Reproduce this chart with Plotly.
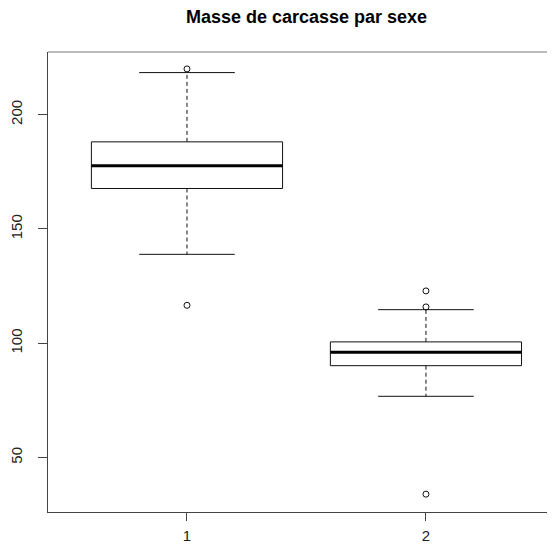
import plotly.graph_objects as go

# ---- data ----
groups = ["1", "2"]
group_pos = [1, 2]
q1 = [167.7, 90.2]
median = [177.7, 96.1]
q3 = [188.1, 100.6]
whisker_low = [138.9, 76.8]
whisker_high = [218.4, 114.7]
outliers_1 = [220.0, 116.6]
outliers_2 = [122.9, 115.9, 34.0]
y_ticks = [50, 100, 150, 200]

BOX_HALF = 0.4
CAP_HALF = 0.2
INK = "#111111"

box_x, box_y = [], []
med_x, med_y = [], []
wh_x, wh_y = [], []
cap_x, cap_y = [], []
for i, p in enumerate(group_pos):
    box_x += [p - BOX_HALF, p + BOX_HALF, p + BOX_HALF, p - BOX_HALF, p - BOX_HALF, None]
    box_y += [q1[i], q1[i], q3[i], q3[i], q1[i], None]
    med_x += [p - BOX_HALF, p + BOX_HALF, None]
    med_y += [median[i], median[i], None]
    wh_x += [p, p, None, p, p, None]
    wh_y += [q3[i], whisker_high[i], None, q1[i], whisker_low[i], None]
    cap_x += [p - CAP_HALF, p + CAP_HALF, None, p - CAP_HALF, p + CAP_HALF, None]
    cap_y += [whisker_high[i], whisker_high[i], None, whisker_low[i], whisker_low[i], None]

out_x = [group_pos[0]] * len(outliers_1) + [group_pos[1]] * len(outliers_2)
out_y = outliers_1 + outliers_2

fig = go.Figure()
fig.add_trace(go.Scatter(x=wh_x, y=wh_y, mode="lines",
                         line=dict(color=INK, width=1, dash="4px,3px"), hoverinfo="skip"))
fig.add_trace(go.Scatter(x=cap_x, y=cap_y, mode="lines",
                         line=dict(color=INK, width=1), hoverinfo="skip"))
fig.add_trace(go.Scatter(x=box_x, y=box_y, mode="lines",
                         line=dict(color=INK, width=1), hoverinfo="skip"))
fig.add_trace(go.Scatter(x=med_x, y=med_y, mode="lines",
                         line=dict(color="#000000", width=3), hoverinfo="skip"))
fig.add_trace(go.Scatter(x=out_x, y=out_y, mode="markers",
                         marker=dict(symbol="circle-open", size=6, color=INK,
                                     line=dict(width=1, color=INK))))

# page has an 8px body margin, so the figure is 547x536 offset by (8, 8)
W, H = 547, 536
fig.update_layout(
    width=W, height=H,
    margin=dict(l=40, r=0, t=44, b=32, autoexpand=False),
    paper_bgcolor="white", plot_bgcolor="white",
    showlegend=False,
    font=dict(family="Liberation Sans, Arial, sans-serif", size=15, color="#222"),
    title=dict(text="<b>Masse de carcasse par sexe</b>", x=298.5 / W, xref="container",
               xanchor="center", y=1 - 9 / H, yref="container", yanchor="middle",
               font=dict(size=18, color="#000")),
    xaxis=dict(range=[0.4184, 2.540], tickmode="array", tickvals=group_pos, ticktext=groups,
               showgrid=False, zeroline=False, showline=True, linecolor="#444", linewidth=1,
               ticks="outside", ticklen=8, tickcolor="#444", ticklabelstandoff=2,
               automargin=False),
    yaxis=dict(range=[26.2, 227.4], tickmode="array", tickvals=y_ticks,
               showgrid=False, zeroline=False, showline=True, linecolor="#444", linewidth=1,
               ticks="outside", ticklen=9, tickcolor="#444", tickangle=-90,
               ticklabelstandoff=10, automargin=False),
    shapes=[dict(type="line", xref="paper", yref="paper", x0=0, x1=1, y0=1, y1=1,
                 line=dict(color="#777", width=1))],
)

fig.write_html("out.html")
